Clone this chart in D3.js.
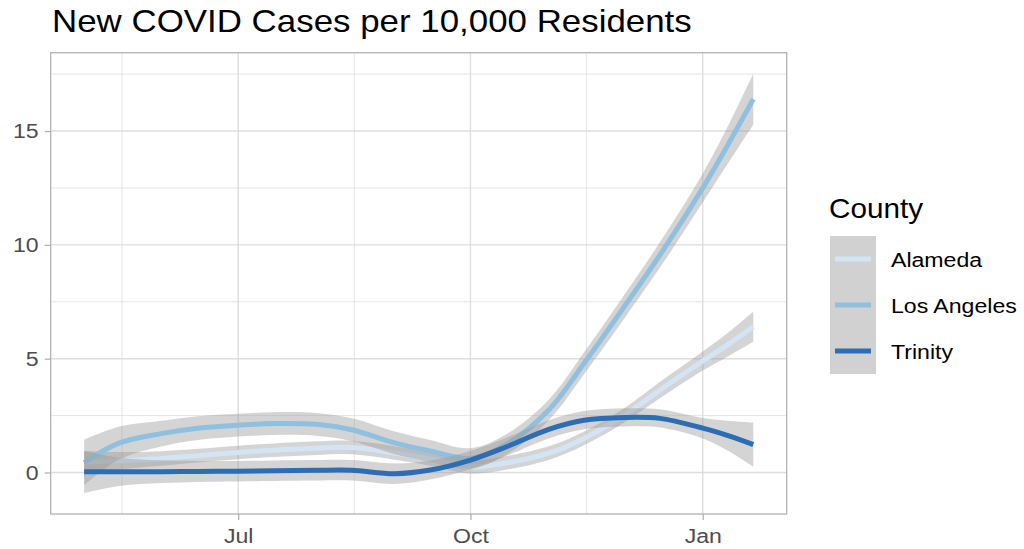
<!DOCTYPE html>
<html>
<head>
<meta charset="utf-8">
<script src="https://cdn.jsdelivr.net/npm/d3@7"></script>
<style>
  html, body { margin: 0; padding: 0; background: #fff; }
  svg { display: block; font-family: "Liberation Sans", Arial, Helvetica, sans-serif; }
</style>
</head>
<body>
<svg id="chart" width="1024" height="549"></svg>
<script>
// Smoothed daily new cases per 10,000 residents (loess fit) and standard-error half-widths
const dates = ["2020-05-01","2020-05-15","2020-06-01","2020-06-15","2020-07-01","2020-07-15",
               "2020-08-01","2020-08-15","2020-09-01","2020-09-15","2020-10-01","2020-10-15",
               "2020-11-01","2020-11-15","2020-12-01","2020-12-15","2021-01-01","2021-01-11","2021-01-21"];
const counties = ["Alameda", "Los Angeles", "Trinity"];

const alamedaFit = [0.45,0.52,0.62,0.74,0.88,0.98,1.07,1.10,0.86,0.60,0.25,0.42,0.85,1.50,2.52,3.62,4.90,5.62,6.40];
const alamedaSe  = [0.50,0.38,0.32,0.30,0.30,0.30,0.30,0.30,0.30,0.30,0.30,0.30,0.30,0.30,0.32,0.36,0.42,0.52,0.66];

const losAngelesFit = [0.44,1.30,1.72,1.95,2.08,2.15,2.12,1.88,1.30,0.95,0.62,1.22,2.75,4.80,7.30,9.55,12.50,14.40,16.40];
const losAngelesSe  = [1.00,0.72,0.56,0.52,0.50,0.50,0.50,0.50,0.50,0.48,0.45,0.45,0.45,0.48,0.52,0.56,0.64,0.82,1.12];

const trinityFit = [0.03,0.03,0.04,0.05,0.06,0.08,0.10,0.10,-0.05,0.11,0.55,1.12,1.90,2.30,2.42,2.38,1.95,1.62,1.23];
const trinitySe  = [0.93,0.62,0.50,0.46,0.45,0.45,0.45,0.45,0.45,0.42,0.40,0.40,0.40,0.40,0.40,0.40,0.45,0.66,0.97];

const lineColors = ["#d3e4f4", "#8fc0e0", "#2c6db4"];

const xTickDates = ["2020-07-01", "2020-10-01", "2021-01-01"];
const xMinorDates = ["2020-05-16", "2020-08-16", "2020-11-16"];
const yTicks = [0, 5, 10, 15];
const yMinor = [2.5, 7.5, 12.5, 17.5];

const titleText = "New COVID Cases per 10,000 Residents";
const legendTitle = "County";

// ---- assemble series ----
const parse = d3.utcParse("%Y-%m-%d");
const fits = [alamedaFit, losAngelesFit, trinityFit];
const ses = [alamedaSe, losAngelesSe, trinitySe];
const series = counties.map((name, i) => ({
  name,
  color: lineColors[i],
  points: dates.map((d, j) => ({ date: parse(d), y: fits[i][j], lo: fits[i][j] - ses[i][j], hi: fits[i][j] + ses[i][j] }))
}));

// text is drawn slightly wide
const STRETCH = 1.1;

// ---- layout ----
const svg = d3.select("#chart");
const margin = { left: 50.7, top: 52.7, right: 1024 - 786.7, bottom: 549 - 514 };
const W = 1024 - margin.left - margin.right;
const H = 549 - margin.top - margin.bottom;

// ggplot-style 5% expansion around the data
const allDates = dates.map(parse);
const [d0, d1] = d3.extent(allDates);
const dPad = (d1 - d0) * 0.05;
const x = d3.scaleUtc().domain([new Date(+d0 - dPad), new Date(+d1 + dPad)]).range([0, W]);

const yMin = d3.min(series, s => d3.min(s.points, p => p.lo));
const yMax = d3.max(series, s => d3.max(s.points, p => p.hi));
const yPad = (yMax - yMin) * 0.05;
const y = d3.scaleLinear().domain([yMin - yPad, yMax + yPad]).range([H, 0]);

const g = svg.append("g").attr("transform", `translate(${margin.left},${margin.top})`);

// panel grid
const gridColor = "#dedede";
g.selectAll("line.ymin").data(yMinor).join("line")
  .attr("x1", 0).attr("x2", W).attr("y1", d => y(d)).attr("y2", d => y(d))
  .attr("stroke", gridColor).attr("stroke-width", 0.8);
g.selectAll("line.xmin").data(xMinorDates.map(parse)).join("line")
  .attr("y1", 0).attr("y2", H).attr("x1", d => x(d)).attr("x2", d => x(d))
  .attr("stroke", gridColor).attr("stroke-width", 0.8);
g.selectAll("line.ymaj").data(yTicks).join("line")
  .attr("x1", 0).attr("x2", W).attr("y1", d => y(d)).attr("y2", d => y(d))
  .attr("stroke", gridColor).attr("stroke-width", 1.4);
g.selectAll("line.xmaj").data(xTickDates.map(parse)).join("line")
  .attr("y1", 0).attr("y2", H).attr("x1", d => x(d)).attr("x2", d => x(d))
  .attr("stroke", gridColor).attr("stroke-width", 1.4);

// smooth fits: ribbon then line, one county at a time
const curve = d3.curveCatmullRom.alpha(0.5);
const area = d3.area().x(p => x(p.date)).y0(p => y(p.lo)).y1(p => y(p.hi)).curve(curve);
const line = d3.line().x(p => x(p.date)).y(p => y(p.y)).curve(curve);

const plot = g.append("g");
series.forEach(s => {
  plot.append("path").attr("d", area(s.points))
    .attr("fill", "#999999").attr("fill-opacity", 0.42);
  plot.append("path").attr("d", line(s.points))
    .attr("fill", "none").attr("stroke", s.color).attr("stroke-width", 5)
    .attr("stroke-linejoin", "round");
});

// panel border
g.append("rect").attr("x", 0).attr("y", 0).attr("width", W).attr("height", H)
  .attr("fill", "none").attr("stroke", "#b3b3b3").attr("stroke-width", 1.3);

// axes
const tickColor = "#b3b3b3";
const labelColor = "#4d4d4d";
const yAxis = g.append("g").call(d3.axisLeft(y).tickValues(yTicks).tickSize(6).tickPadding(6));
const xAxis = g.append("g").attr("transform", `translate(0,${H})`)
  .call(d3.axisBottom(x).tickValues(xTickDates.map(parse)).tickFormat(d3.utcFormat("%b")).tickSize(6).tickPadding(8));
[yAxis, xAxis].forEach(a => {
  a.select(".domain").remove();
  a.selectAll(".tick line").attr("stroke", tickColor).attr("stroke-width", 1.3);
  a.selectAll(".tick text").attr("fill", labelColor).style("font-size", "21px")
    .attr("transform", `scale(${STRETCH},1)`);
});
yAxis.selectAll(".tick text").attr("x", -12 / STRETCH);

// helper for stretched free text
function label(parent, tx, ty, str, size, sx = STRETCH) {
  return parent.append("text")
    .attr("transform", `translate(${tx},${ty}) scale(${sx},1)`)
    .text(str).style("font-size", size + "px");
}

// title
label(svg, 52, 32, titleText, 32, 1.09).attr("fill", "#000");

// legend
const lg = svg.append("g").attr("transform", "translate(830,0)");
label(lg, -1, 218, legendTitle, 27).attr("fill", "#000");
const keySize = 46, keyTop = 236;
series.forEach((s, i) => {
  const ky = keyTop + i * keySize;
  lg.append("rect").attr("x", 0).attr("y", ky).attr("width", keySize).attr("height", keySize)
    .attr("fill", "#999999").attr("fill-opacity", 0.45);
  lg.append("line").attr("x1", 5).attr("x2", keySize - 5).attr("y1", ky + keySize / 2).attr("y2", ky + keySize / 2)
    .attr("stroke", s.color).attr("stroke-width", 5);
  label(lg, 61, ky + keySize / 2 + 7.5, s.name, 21).attr("fill", "#000");
});
</script>
</body>
</html>
